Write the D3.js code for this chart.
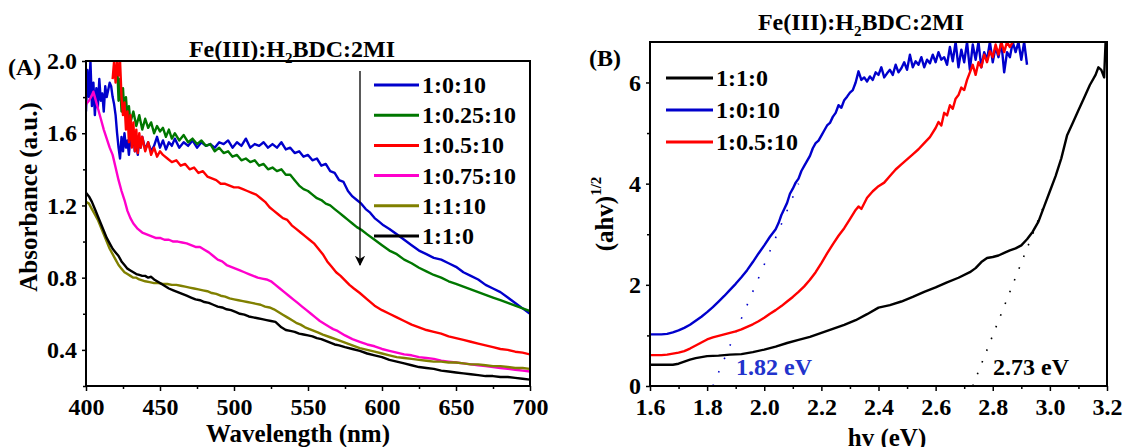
<!DOCTYPE html>
<html><head><meta charset="utf-8">
<script src="https://cdn.jsdelivr.net/npm/d3@7"></script>
<style>
html,body{margin:0;padding:0;background:#fff;}
svg text{font-family:"Liberation Serif","Times New Roman",serif;font-weight:bold;fill:#000;}
</style></head>
<body><svg id="chart" width="1129" height="447"></svg>
<script>
// ---------- Panel A data: wavelength (nm) vs absorbance ----------
const seriesA_names = ["1:0:10","1:0.25:10","1:0.5:10","1:0.75:10","1:1:10","1:1:0"];
const seriesA_colors = ["#0000cc","#007700","#ff0000","#ff00cc","#808000","#000000"];
const blueA = [[400,1.72],[401,1.95],[402,1.80],[403,2.0],[404,1.75],[405,1.88],[406,1.70],[407,1.85],[408,1.74],[409,1.90],[410,1.78],[411,1.82],[412,1.72],[413,1.86],[414,1.80],[415,1.84],[416,1.88],[417,1.86],[418,1.80],[419,1.76],[420,1.70],[421,1.60],[422,1.52],[423,1.46],[424,1.58],[425,1.50],[426,1.60],[427,1.52],[428,1.56],[429,1.48],[430,1.58],[431,1.53],[432,1.60],[433,1.50],[434,1.55],[435,1.48],[436,1.57],[437,1.52],[438,1.58],[440,1.51],[442,1.55],[444,1.50],[446,1.53],[448,1.58],[450,1.52],[452,1.56],[454,1.51],[456,1.55],[458,1.53],[460,1.57],[463,1.52],[466,1.55],[469,1.53],[472,1.56],[475,1.52],[478,1.55],[481,1.53],[484,1.54],[487,1.52],[490,1.55],[493,1.54],[496,1.56],[499,1.52],[502,1.55],[505,1.53],[508,1.57],[511,1.52],[514,1.54],[517,1.53],[520,1.55],[523,1.52],[526,1.54],[529,1.52],[532,1.55],[535,1.51],[538,1.52],[541,1.49],[544,1.50],[547,1.47],[550,1.48],[553,1.45],[556,1.46],[559,1.42],[562,1.43],[565,1.39],[568,1.38],[571,1.34],[574,1.33],[577,1.28],[580,1.25],[583,1.23],[586,1.21],[589,1.18],[592,1.16],[595,1.13],[598,1.11],[601,1.09],[605,1.07],[610,1.04],[615,1.01],[620,0.98],[625,0.95],[630,0.93],[635,0.91],[640,0.90],[645,0.88],[650,0.86],[655,0.83],[660,0.81],[665,0.79],[670,0.76],[675,0.74],[680,0.72],[685,0.69],[690,0.66],[695,0.63],[700,0.60]];
const greenA = [[421,2.0],[422,1.78],[423,1.90],[424,1.72],[425,1.85],[426,1.70],[427,1.80],[428,1.68],[429,1.75],[430,1.66],[432,1.72],[434,1.64],[436,1.70],[438,1.62],[440,1.68],[442,1.63],[444,1.66],[446,1.60],[448,1.64],[450,1.61],[452,1.63],[454,1.58],[456,1.62],[458,1.57],[460,1.60],[463,1.56],[466,1.59],[469,1.55],[472,1.57],[475,1.54],[478,1.56],[481,1.53],[484,1.54],[487,1.50],[490,1.52],[493,1.49],[496,1.50],[499,1.47],[502,1.48],[505,1.45],[508,1.46],[511,1.44],[514,1.45],[517,1.42],[520,1.43],[523,1.40],[526,1.41],[529,1.39],[532,1.40],[535,1.37],[538,1.37],[541,1.34],[544,1.31],[547,1.29],[550,1.28],[553,1.26],[556,1.24],[559,1.23],[562,1.21],[565,1.20],[568,1.18],[571,1.16],[574,1.14],[577,1.12],[580,1.10],[583,1.08],[586,1.065],[590,1.04],[595,1.01],[600,0.98],[605,0.95],[610,0.93],[615,0.90],[620,0.88],[625,0.855],[630,0.835],[635,0.815],[640,0.80],[645,0.78],[650,0.765],[655,0.75],[660,0.735],[665,0.72],[670,0.705],[675,0.69],[680,0.675],[685,0.66],[690,0.645],[695,0.63],[700,0.615]];
const redA = [[418,1.90],[419,2.0],[420,1.88],[421,2.0],[422,1.92],[423,2.0],[424,1.80],[425,1.70],[426,1.77],[427,1.62],[428,1.72],[429,1.55],[430,1.70],[431,1.52],[432,1.66],[433,1.50],[434,1.62],[435,1.49],[436,1.60],[437,1.52],[438,1.58],[440,1.50],[442,1.55],[444,1.48],[446,1.52],[448,1.47],[450,1.50],[452,1.48],[455,1.46],[458,1.44],[461,1.45],[464,1.42],[467,1.43],[470,1.40],[473,1.41],[476,1.38],[479,1.39],[482,1.36],[485,1.35],[488,1.34],[491,1.32],[494,1.32],[497,1.31],[500,1.30],[503,1.30],[506,1.29],[509,1.28],[512,1.27],[515,1.26],[518,1.24],[521,1.22],[524,1.19],[527,1.17],[530,1.15],[533,1.13],[536,1.12],[539,1.09],[542,1.07],[545,1.05],[548,1.03],[551,1.01],[554,0.99],[557,0.96],[560,0.93],[563,0.89],[566,0.86],[569,0.83],[572,0.81],[575,0.785],[578,0.76],[581,0.74],[585,0.715],[590,0.68],[595,0.645],[600,0.62],[605,0.60],[610,0.58],[615,0.56],[620,0.54],[625,0.525],[630,0.51],[635,0.50],[640,0.49],[645,0.475],[650,0.465],[655,0.455],[660,0.445],[665,0.435],[670,0.425],[675,0.415],[680,0.405],[685,0.40],[690,0.39],[695,0.385],[700,0.375]];
const magentaA = [[400,1.76],[402,1.78],[404,1.81],[405,1.83],[406,1.80],[408,1.74],[410,1.68],[412,1.62],[414,1.57],[416,1.52],[418,1.48],[420,1.41],[422,1.34],[424,1.28],[426,1.23],[428,1.17],[430,1.13],[432,1.10],[435,1.07],[438,1.05],[441,1.04],[444,1.03],[447,1.02],[450,1.02],[453,1.01],[456,1.01],[459,1.00],[462,1.00],[465,0.995],[468,0.99],[471,0.98],[474,0.97],[477,0.97],[480,0.955],[483,0.94],[486,0.92],[489,0.90],[492,0.89],[495,0.87],[498,0.86],[501,0.85],[504,0.84],[507,0.83],[510,0.82],[513,0.81],[516,0.80],[519,0.795],[522,0.79],[525,0.78],[528,0.76],[531,0.74],[534,0.72],[537,0.70],[540,0.68],[543,0.66],[546,0.64],[549,0.62],[552,0.60],[555,0.58],[558,0.56],[561,0.545],[564,0.53],[567,0.515],[570,0.505],[575,0.48],[580,0.46],[585,0.445],[590,0.43],[595,0.42],[600,0.405],[605,0.395],[610,0.385],[615,0.375],[620,0.37],[625,0.36],[630,0.355],[635,0.35],[640,0.34],[645,0.335],[650,0.33],[655,0.325],[660,0.32],[665,0.315],[670,0.31],[675,0.305],[680,0.30],[685,0.295],[690,0.29],[695,0.285],[700,0.28]];
const oliveA = [[400,1.22],[402,1.21],[404,1.18],[406,1.15],[408,1.12],[410,1.08],[412,1.04],[414,1.00],[416,0.96],[418,0.93],[420,0.90],[422,0.87],[424,0.85],[426,0.83],[428,0.82],[430,0.81],[432,0.80],[434,0.80],[436,0.79],[438,0.785],[440,0.78],[443,0.775],[446,0.77],[449,0.77],[452,0.765],[455,0.765],[458,0.76],[461,0.76],[464,0.755],[467,0.75],[470,0.745],[473,0.74],[476,0.735],[479,0.73],[482,0.725],[485,0.715],[488,0.71],[491,0.70],[494,0.695],[497,0.685],[500,0.68],[503,0.675],[506,0.67],[509,0.665],[512,0.66],[515,0.655],[518,0.65],[521,0.64],[524,0.635],[527,0.625],[530,0.61],[533,0.595],[536,0.58],[539,0.565],[542,0.55],[545,0.54],[548,0.525],[551,0.515],[554,0.505],[557,0.495],[560,0.485],[565,0.47],[570,0.455],[575,0.44],[580,0.425],[585,0.41],[590,0.40],[595,0.39],[600,0.38],[605,0.37],[610,0.36],[615,0.355],[620,0.35],[625,0.345],[630,0.34],[635,0.335],[640,0.335],[645,0.33],[650,0.33],[655,0.325],[660,0.32],[665,0.32],[670,0.315],[675,0.31],[680,0.31],[685,0.305],[690,0.30],[695,0.30],[700,0.295]];
const blackA = [[400,1.27],[402,1.25],[404,1.22],[406,1.18],[408,1.14],[410,1.10],[412,1.06],[414,1.02],[416,0.99],[418,0.96],[420,0.94],[422,0.92],[424,0.89],[426,0.87],[428,0.85],[430,0.84],[432,0.83],[434,0.82],[436,0.815],[438,0.81],[440,0.81],[442,0.80],[444,0.805],[446,0.79],[448,0.78],[450,0.77],[453,0.755],[456,0.74],[459,0.73],[462,0.72],[465,0.71],[468,0.70],[471,0.69],[474,0.68],[477,0.675],[480,0.665],[483,0.66],[486,0.65],[489,0.64],[492,0.635],[495,0.625],[498,0.62],[501,0.61],[504,0.60],[507,0.595],[510,0.585],[513,0.58],[516,0.575],[519,0.57],[522,0.565],[525,0.56],[528,0.555],[530,0.54],[532,0.525],[535,0.51],[538,0.505],[541,0.50],[544,0.49],[547,0.485],[550,0.48],[553,0.475],[556,0.465],[559,0.46],[562,0.45],[565,0.44],[568,0.43],[571,0.425],[575,0.415],[580,0.405],[585,0.395],[590,0.38],[595,0.37],[600,0.36],[605,0.345],[610,0.335],[615,0.325],[620,0.315],[625,0.305],[630,0.30],[635,0.295],[640,0.285],[645,0.28],[650,0.275],[655,0.27],[660,0.265],[665,0.26],[670,0.255],[675,0.255],[680,0.25],[685,0.25],[690,0.245],[695,0.24],[700,0.235]];
const seriesA = [blueA, greenA, redA, magentaA, oliveA, blackA];
const xTicksA = [400,450,500,550,600,650,700];
const xMinorA = [425,475,525,575,625,675];
const yTicksA = [0.4,0.8,1.2,1.6,2.0];
const yMinorA = [0.2,0.6,1.0,1.4,1.8];

// ---------- Panel B data: hv (eV) vs (ahv)^1/2 ----------
const seriesB_names = ["1:1:0","1:0:10","1:0.5:10"];
const seriesB_colors = ["#000000","#0000cc","#ff0000"];
const blackB = [[1.60,0.42],[1.64,0.42],[1.68,0.42],[1.70,0.44],[1.72,0.48],[1.74,0.52],[1.76,0.55],[1.78,0.57],[1.80,0.59],[1.84,0.60],[1.88,0.62],[1.92,0.63],[1.96,0.67],[2.00,0.72],[2.04,0.78],[2.08,0.85],[2.12,0.91],[2.16,0.97],[2.20,1.05],[2.24,1.13],[2.28,1.21],[2.32,1.30],[2.36,1.42],[2.40,1.55],[2.44,1.60],[2.48,1.67],[2.52,1.76],[2.56,1.86],[2.60,1.95],[2.64,2.05],[2.68,2.14],[2.72,2.25],[2.74,2.33],[2.76,2.45],[2.78,2.53],[2.80,2.55],[2.82,2.58],[2.84,2.63],[2.86,2.68],[2.88,2.72],[2.90,2.78],[2.92,2.90],[2.94,3.05],[2.96,3.25],[2.98,3.55],[3.00,3.85],[3.02,4.15],[3.04,4.50],[3.06,4.95],[3.08,5.20],[3.10,5.45],[3.12,5.70],[3.14,5.95],[3.16,6.15],[3.17,6.30],[3.18,6.25],[3.19,6.10],[3.195,6.80]];
const blueB = [[1.60,1.02],[1.62,1.02],[1.64,1.02],[1.66,1.03],[1.68,1.06],[1.70,1.10],[1.72,1.15],[1.74,1.21],[1.76,1.29],[1.78,1.37],[1.80,1.46],[1.82,1.56],[1.84,1.67],[1.86,1.78],[1.88,1.90],[1.90,2.02],[1.92,2.15],[1.94,2.29],[1.96,2.45],[1.98,2.62],[2.00,2.78],[2.02,2.95],[2.04,3.10],[2.05,3.22],[2.06,3.38],[2.07,3.50],[2.08,3.62],[2.09,3.80],[2.10,3.90],[2.11,4.02],[2.12,4.10],[2.13,4.25],[2.14,4.35],[2.15,4.45],[2.16,4.55],[2.17,4.70],[2.18,4.80],[2.19,4.85],[2.20,4.95],[2.21,5.05],[2.22,5.15],[2.23,5.20],[2.24,5.32],[2.25,5.40],[2.26,5.55],[2.27,5.50],[2.28,5.65],[2.29,5.72],[2.30,5.80],[2.31,5.85],[2.32,6.0],[2.33,6.22],[2.34,6.05],[2.35,6.10],[2.36,6.02],[2.37,6.12],[2.38,6.05],[2.39,6.20],[2.40,6.15],[2.41,6.30],[2.42,6.10],[2.43,6.18],[2.44,6.25],[2.45,6.15],[2.46,6.35],[2.47,6.20],[2.48,6.28],[2.49,6.40],[2.50,6.25],[2.51,6.55],[2.52,6.30],[2.53,6.42],[2.54,6.35],[2.55,6.50],[2.56,6.30],[2.57,6.45],[2.58,6.38],[2.59,6.55],[2.60,6.40],[2.61,6.60],[2.62,6.45],[2.63,6.50],[2.64,6.35],[2.65,6.70],[2.66,6.42],[2.67,6.80],[2.68,6.30],[2.69,6.65],[2.70,6.40],[2.71,6.80],[2.72,6.25],[2.73,6.75],[2.74,6.45],[2.75,6.80],[2.76,6.30],[2.77,6.60],[2.78,6.45],[2.79,6.80],[2.80,6.40],[2.81,6.70],[2.82,6.50],[2.83,6.80],[2.84,6.20],[2.85,6.60],[2.86,6.50],[2.87,6.80],[2.88,6.60],[2.89,6.80],[2.90,6.45],[2.91,6.80],[2.92,6.35]];
const redB = [[1.60,0.61],[1.62,0.61],[1.64,0.61],[1.66,0.62],[1.68,0.64],[1.70,0.66],[1.72,0.69],[1.74,0.74],[1.76,0.80],[1.78,0.86],[1.80,0.92],[1.82,0.96],[1.84,0.99],[1.86,1.02],[1.88,1.05],[1.90,1.08],[1.92,1.12],[1.94,1.17],[1.96,1.22],[1.98,1.28],[2.00,1.35],[2.02,1.43],[2.04,1.50],[2.06,1.58],[2.08,1.67],[2.10,1.76],[2.12,1.86],[2.14,1.97],[2.16,2.10],[2.18,2.25],[2.20,2.43],[2.22,2.62],[2.24,2.80],[2.26,2.97],[2.28,3.12],[2.30,3.30],[2.32,3.48],[2.33,3.55],[2.34,3.50],[2.36,3.72],[2.38,3.85],[2.40,3.95],[2.42,4.02],[2.44,4.15],[2.46,4.28],[2.48,4.38],[2.50,4.48],[2.52,4.58],[2.54,4.68],[2.56,4.80],[2.58,4.92],[2.60,5.10],[2.61,5.22],[2.62,5.15],[2.63,5.40],[2.64,5.35],[2.65,5.55],[2.66,5.48],[2.67,5.68],[2.68,5.75],[2.69,5.90],[2.70,5.85],[2.71,6.05],[2.72,6.20],[2.73,6.35],[2.74,6.15],[2.75,6.40],[2.76,6.30],[2.77,6.55],[2.78,6.40],[2.79,6.62],[2.80,6.50],[2.81,6.75],[2.82,6.55],[2.83,6.80],[2.84,6.60],[2.85,6.80],[2.86,6.70],[2.87,6.80]];
const seriesB = [blackB, blueB, redB];
const tangentBlue = [[1.82,0],[2.12,4.0]];
const tangentBlack = [[2.73,0],[2.98,3.58]];
const gapLabels = ["1.82 eV","2.73 eV"];
const xTicksB = [1.6,1.8,2.0,2.2,2.4,2.6,2.8,3.0,3.2];
const xMinorB = [1.7,1.9,2.1,2.3,2.5,2.7,2.9,3.1];
const yTicksB = [0,2,4,6];
const yMinorB = [1,3,5];

// ---------- drawing ----------
const svg = d3.select("#chart");
const FS = 24;

const xA = d3.scaleLinear().domain([400,700]).range([86,530]);
const yA = d3.scaleLinear().domain([0.2,2.0]).range([386,61]);
const xB = d3.scaleLinear().domain([1.6,3.2]).range([650,1107]);
const yB = d3.scaleLinear().domain([0,6.8]).range([386,42]);

function drawAxes(x, y, xt, xm, yt, ym, xfmt, yfmt){
  const [x0,x1] = x.range(), [y0,y1] = y.range();
  const gx = svg.append("g").attr("transform",`translate(0,${y0})`)
    .call(d3.axisBottom(x).tickValues(xt).tickSize(5).tickPadding(7).tickFormat(xfmt));
  svg.append("g").attr("transform",`translate(0,${y0})`)
    .call(d3.axisBottom(x).tickValues(xm).tickSize(3).tickFormat(""))
    .select(".domain").remove();
  const gy = svg.append("g").attr("transform",`translate(${x0},0)`)
    .call(d3.axisLeft(y).tickValues(yt).tickSize(4).tickPadding(5).tickFormat(yfmt));
  svg.append("g").attr("transform",`translate(${x0},0)`)
    .call(d3.axisLeft(y).tickValues(ym).tickSize(3).tickFormat(""))
    .select(".domain").remove();
  [gx,gy].forEach(g=>{
    g.select(".domain").remove();
    g.selectAll("text").attr("font-size",FS).attr("font-family",null);
  });
  svg.selectAll(".tick line").attr("stroke","#000").attr("stroke-width",1.5);
  svg.append("rect").attr("x",x0).attr("y",y1).attr("width",x1-x0).attr("height",y0-y1)
    .attr("fill","none").attr("stroke","#000").attr("stroke-width",2);
}

function clip(id, x, y){
  const [x0,x1]=x.range(), [y0,y1]=y.range();
  svg.append("clipPath").attr("id",id).append("rect")
    .attr("x",x0).attr("y",y1).attr("width",x1-x0).attr("height",y0-y1);
}
clip("clipA", xA, yA); clip("clipB", xB, yB);

// Panel A lines
const lineA = d3.line().x(d=>xA(d[0])).y(d=>yA(d[1]));
const gA = svg.append("g").attr("clip-path","url(#clipA)");
seriesA.forEach((s,i)=>{
  gA.append("path").datum(s).attr("d",lineA).attr("fill","none")
    .attr("stroke",seriesA_colors[i]).attr("stroke-width",2.4).attr("stroke-linejoin","round");
});
drawAxes(xA,yA,xTicksA,xMinorA,yTicksA,yMinorA,d3.format("d"),d3.format(".1f"));

// Panel B lines
const lineB = d3.line().x(d=>xB(d[0])).y(d=>yB(d[1]));
const gB = svg.append("g").attr("clip-path","url(#clipB)");
gB.append("path").datum(tangentBlue).attr("d",lineB).attr("stroke","#0000cc")
  .attr("stroke-width",1.6).attr("stroke-dasharray","1.6,13").attr("fill","none");
gB.append("path").datum(tangentBlack).attr("d",lineB).attr("stroke","#000")
  .attr("stroke-width",1.6).attr("stroke-dasharray","1.6,11").attr("fill","none");
seriesB.forEach((s,i)=>{
  gB.append("path").datum(s).attr("d",lineB).attr("fill","none")
    .attr("stroke",seriesB_colors[i]).attr("stroke-width",2.4).attr("stroke-linejoin","round");
});
drawAxes(xB,yB,xTicksB,xMinorB,yTicksB,yMinorB,d3.format(".1f"),d3.format("d"));

// Legend A
seriesA_names.forEach((n,i)=>{
  const cy = 85 + i*30.2;
  svg.append("line").attr("x1",374).attr("x2",419).attr("y1",cy).attr("y2",cy)
    .attr("stroke",seriesA_colors[i]).attr("stroke-width",3);
  svg.append("text").attr("x",422).attr("y",cy+8).attr("font-size",FS).text(n);
});
// arrow
svg.append("defs").append("marker").attr("id","arr").attr("viewBox","0 0 10 10")
  .attr("refX",9).attr("refY",5).attr("markerWidth",8).attr("markerHeight",8).attr("orient","auto")
  .append("path").attr("d","M0,0 L10,5 L0,10 L3,5 Z").attr("fill","#000");
svg.append("line").attr("x1",360).attr("x2",360).attr("y1",71).attr("y2",265)
  .attr("stroke","#000").attr("stroke-width",1.3).attr("marker-end","url(#arr)");

// Legend B
seriesB_names.forEach((n,i)=>{
  const cy = 78 + i*32;
  svg.append("line").attr("x1",666).attr("x2",713).attr("y1",cy).attr("y2",cy)
    .attr("stroke",seriesB_colors[i]).attr("stroke-width",3);
  svg.append("text").attr("x",716).attr("y",cy+8).attr("font-size",FS).text(n);
});

// Titles
function title(cx, by){
  const t = svg.append("text").attr("x",cx).attr("y",by).attr("text-anchor","middle").attr("font-size",FS);
  t.append("tspan").text("Fe(III):H");
  t.append("tspan").attr("font-size",15).attr("dy",6).text("2");
  t.append("tspan").attr("dy",-6).text("BDC:2MI");
}
title(292, 57);
title(861, 30);

svg.append("text").attr("x",8).attr("y",75).attr("font-size",FS).text("(A)");
svg.append("text").attr("x",589).attr("y",66).attr("font-size",FS).text("(B)");

// Axis titles
svg.append("text").attr("transform","translate(37,197) rotate(-90)").attr("text-anchor","middle")
  .attr("font-size",FS+1).text("Absorbance (a.u.)");
svg.append("text").attr("x",298).attr("y",442).attr("text-anchor","middle")
  .attr("font-size",FS+1).text("Wavelength (nm)");
const yl = svg.append("text").attr("transform","translate(613,214) rotate(-90)").attr("text-anchor","middle")
  .attr("font-size",FS+1);
yl.append("tspan").text("(ahv)");
yl.append("tspan").attr("font-size",15).attr("dy",-12).text("1/2");
svg.append("text").attr("x",887).attr("y",446).attr("text-anchor","middle")
  .attr("font-size",FS+1).text("hv (eV)");

// band gap labels
svg.append("text").attr("x",736).attr("y",375).attr("font-size",FS)
  .style("fill","#2233cc").text(gapLabels[0]);
svg.append("text").attr("x",993).attr("y",375).attr("font-size",FS).text(gapLabels[1]);
</script>
</body></html>
